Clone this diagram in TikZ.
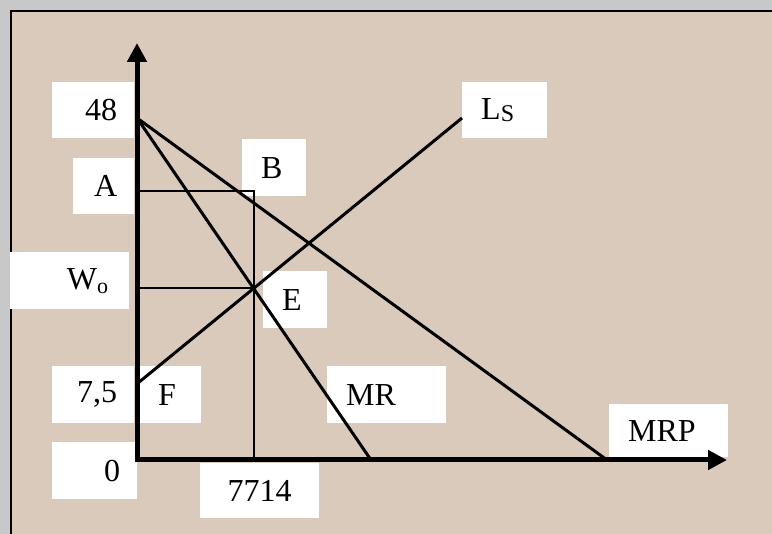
\documentclass[tikz,border=0pt]{standalone}
\usepackage{fontspec}
\setmainfont{Liberation Serif}
\usetikzlibrary{arrows.meta}
\definecolor{paper}{HTML}{D9CABB}
\definecolor{frame}{HTML}{C8C8C8}

\begin{document}
\begin{tikzpicture}[x=1pt, y=-1pt,
        box/.style={fill=white, inner ysep=0pt, anchor=north west, font=\fontsize{32}{38}\selectfont},
        rbox/.style={box, align=right, inner xsep=17pt},
        lbox/.style={box, align=left, inner xsep=19pt},
        axis/.style={line width=5pt, line join=miter, {Triangle[length=19pt,width=19pt]}-{Triangle[length=19pt,width=19pt]}},
        curve/.style={line width=3pt},
        guide/.style={line width=1.8pt}]
                \useasboundingbox (0, 0) rectangle (772, 534);
                \clip (0, 0) rectangle (772, 534);
                \fill[frame] (0, 0) rectangle (772, 534);
                \filldraw[fill=paper, draw=black, line width=2pt] (10.5, 11.3) rectangle (790, 550);

                \node[rbox, text width=48pt, minimum height=56pt] (v48) at (52, 82) {48};
                \node[rbox, text width=27pt, minimum height=56pt] (vA) at (73, 158) {A};
                \node[rbox, inner xsep=21pt, text width=77pt, minimum height=57pt] (vW) at (10, 252) {W\raisebox{-4pt}{\fontsize{22}{24}\selectfont o}};
                \node[rbox, text width=48pt, minimum height=57pt] (v75) at (52, 366) {7,5};
                \node[rbox, text width=51pt, minimum height=57pt] (v0) at (52, 442) {0};

                \node[lbox, text width=26pt, minimum height=57pt] (lB) at (242, 139) {B};
                \node[lbox, text width=26pt, minimum height=57pt] (lE) at (263, 271) {E};
                \node[lbox, text width=24pt, minimum height=57pt] (lF) at (139, 366) {F};
                \node[lbox, text width=81pt, minimum height=57pt] (lMR) at (327, 366) {MR};
                \node[lbox, text width=81pt, minimum height=53pt] (lMRP) at (609, 404) {MRP};
                \node[lbox, text width=47pt, minimum height=56pt] (lLs) at (462, 82) {L\raisebox{-2pt}{\fontsize{24}{26}\selectfont S}};
                \node[box, align=center, inner xsep=19pt, text width=81pt, minimum height=55pt] (l7714) at (200, 463) {7714};

                \coordinate (O) at (137, 460);
                \coordinate (ytip) at (137, 43);
                \coordinate (xtip) at (727, 460);
                \coordinate (top) at (137, 118);
                \coordinate (mr) at (371, 460);
                \coordinate (mrp) at (607, 460);
                \coordinate (f) at (138, 383);
                \coordinate (ls) at (462, 118);
                \coordinate (E) at (254, 288);
                \coordinate (a) at (137, 191);
                \coordinate (w) at (137, 288);
                \coordinate (q) at (254, 460);

                \draw[guide] (a) -| (q);
                \draw[guide] (w) -- (E);
                \draw[curve] (top) -- (mrp);
                \draw[curve] (top) -- (mr);
                \draw[curve] (f) -- (ls);
                \draw[axis] (ytip) |- (xtip);
            \end{tikzpicture}
\end{document}
